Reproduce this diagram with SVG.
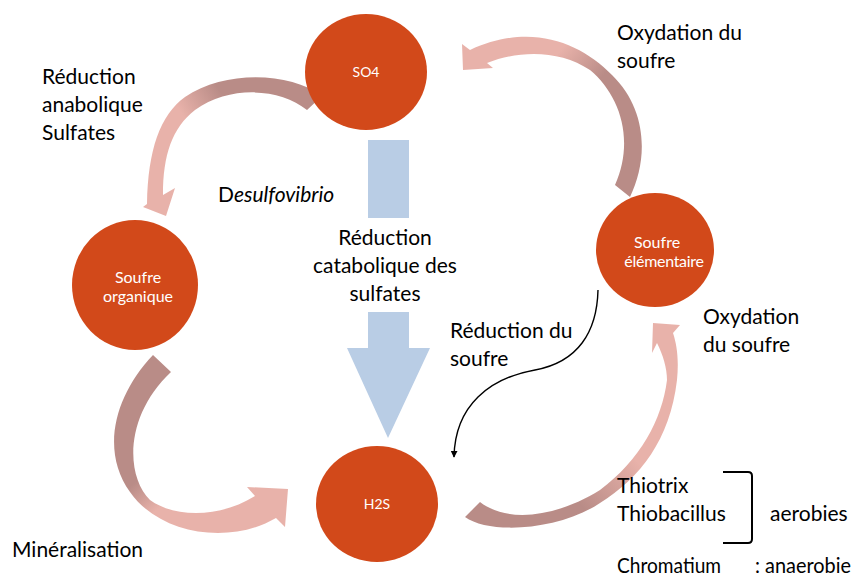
<svg xmlns="http://www.w3.org/2000/svg" width="855" height="582" viewBox="0 0 855 582">
<style>
.node{fill:#D2491A}
.nl{font-family:Lato,"Liberation Sans",sans-serif;fill:#fff;text-anchor:middle}
.t{font-family:Lato,"Liberation Sans",sans-serif;font-size:21px;fill:#000}
.c{text-anchor:middle}
.blue{fill:#B9CDE5}
</style>
<defs>
<linearGradient id="gA" gradientUnits="userSpaceOnUse" x1="320" y1="100" x2="155" y2="200"><stop offset="0" stop-color="#B98C87"/><stop offset="0.42" stop-color="#B98C87"/><stop offset="0.65" stop-color="#E8B2AA"/><stop offset="1" stop-color="#E8B2AA"/></linearGradient>
<linearGradient id="gB" gradientUnits="userSpaceOnUse" x1="630" y1="190" x2="470" y2="50"><stop offset="0" stop-color="#B98C87"/><stop offset="0.45" stop-color="#B98C87"/><stop offset="0.68" stop-color="#E8B2AA"/><stop offset="1" stop-color="#E8B2AA"/></linearGradient>
<linearGradient id="gC" gradientUnits="userSpaceOnUse" x1="160" y1="360" x2="285" y2="510"><stop offset="0" stop-color="#B98C87"/><stop offset="0.4" stop-color="#B98C87"/><stop offset="0.58" stop-color="#E8B2AA"/><stop offset="1" stop-color="#E8B2AA"/></linearGradient>
<linearGradient id="gD" gradientUnits="userSpaceOnUse" x1="475" y1="520" x2="670" y2="340"><stop offset="0" stop-color="#B98C87"/><stop offset="0.33" stop-color="#B98C87"/><stop offset="0.6" stop-color="#E8B2AA"/><stop offset="1" stop-color="#E8B2AA"/></linearGradient>
<marker id="ah" viewBox="0 0 10 10" refX="9" refY="5" markerWidth="7" markerHeight="7" orient="auto" markerUnits="userSpaceOnUse"><path d="M0,0 L10,5 L0,10 Z" fill="#000"/></marker>
</defs>

<g id="connectors">
<path id="arrow-so4-organique" fill="url(#gA)" d="M 322 96 C 290 72, 225 70, 185 97 C 160 115, 148 150, 147 204 L 143 207 L 166 216 L 175 188 L 163 195 C 163 155, 172 128, 195 110 C 230 85, 280 88, 307 110 Z"/>
<path id="arrow-elem-so4" fill="url(#gB)" d="M 630 197 C 648 160, 648 110, 612 75 C 580 42, 530 22, 470 50 L 462 44 L 463 70 L 493 68 L 487 63 C 520 50, 560 50, 590 70 C 620 95, 635 140, 615 185 Z"/>
<path id="arrow-organique-h2s" fill="url(#gC)" d="M 153 355 C 115 395, 100 450, 130 492 C 160 535, 230 545, 276 518 L 285 527 L 288 489 L 247 487 L 255 496 C 220 518, 175 518, 150 500 C 125 475, 125 415, 171 372 Z"/>
<path id="arrow-h2s-elem" fill="url(#gD)" d="M 465 517 C 490 535, 560 530, 600 503 C 640 478, 670 440, 677 380 C 679 360, 677 345, 673 333 L 680 325 L 653 323 L 652 353 L 657 343 C 663 355, 667 368, 667 380 C 662 420, 640 460, 600 490 C 560 515, 510 525, 480 502 Z"/>
<g id="arrow-catabolique" class="blue">
<rect x="368" y="140" width="41" height="78"/>
<polygon points="368,312 409,312 409,348 430,348 388,438 347,348 368,348"/>
</g>
<path id="arrow-reduction-soufre" fill="none" stroke="#000" stroke-width="1.4" marker-end="url(#ah)" d="M 598 290 C 597 332, 578 362, 535 370 C 490 378, 455 405, 454 457"/>
</g>

<g id="node-so4"><ellipse class="node" cx="366" cy="72" rx="61" ry="58"/><text class="nl" x="366" y="77" font-size="14">SO4</text></g>
<g id="node-organique"><ellipse class="node" cx="135" cy="285" rx="63" ry="65"/><text class="nl" x="138" y="283" font-size="16">Soufre</text><text class="nl" x="138" y="302" font-size="16">organique</text></g>
<g id="node-elementaire"><ellipse class="node" cx="655" cy="250" rx="59" ry="57"/><text class="nl" x="657" y="248" font-size="16">Soufre</text><text class="nl" x="664" y="267" font-size="16" letter-spacing="-0.3">élémentaire</text></g>
<g id="node-h2s"><ellipse class="node" cx="377" cy="504" rx="61" ry="58"/><text class="nl" x="377" y="509" font-size="14">H2S</text></g>

<g id="labels">
<text class="t" x="42" y="84">Réduction</text>
<text class="t" x="42" y="112">anabolique</text>
<text class="t" x="42" y="140">Sulfates</text>
<text class="t" x="218" y="202">D<tspan font-style="italic">esulfovibrio</tspan></text>
<text class="t c" x="385" y="245">Réduction</text>
<text class="t c" x="385" y="273">catabolique des</text>
<text class="t c" x="385" y="301">sulfates</text>
<text class="t" x="617" y="40">Oxydation du</text>
<text class="t" x="617" y="68">soufre</text>
<text class="t" x="703" y="324">Oxydation</text>
<text class="t" x="703" y="352">du soufre</text>
<text class="t" x="450" y="338">Réduction du</text>
<text class="t" x="450" y="366">soufre</text>
<text class="t" x="12" y="557">Minéralisation</text>
<text class="t" x="617" y="493">Thiotrix</text>
<text class="t" x="617" y="521">Thiobacillus</text>
<text class="t" x="770" y="521">aerobies</text>
<text class="t" x="617" y="573" textLength="104" lengthAdjust="spacingAndGlyphs">Chromatium</text>
<text class="t" x="755" y="573" textLength="96" lengthAdjust="spacingAndGlyphs">: anaerobie</text>
<path d="M 723 472 L 748 472 Q 752 472 752 476 L 752 539 Q 752 543 748 543 L 723 543" fill="none" stroke="#000" stroke-width="2"/>
</g>
</svg>
